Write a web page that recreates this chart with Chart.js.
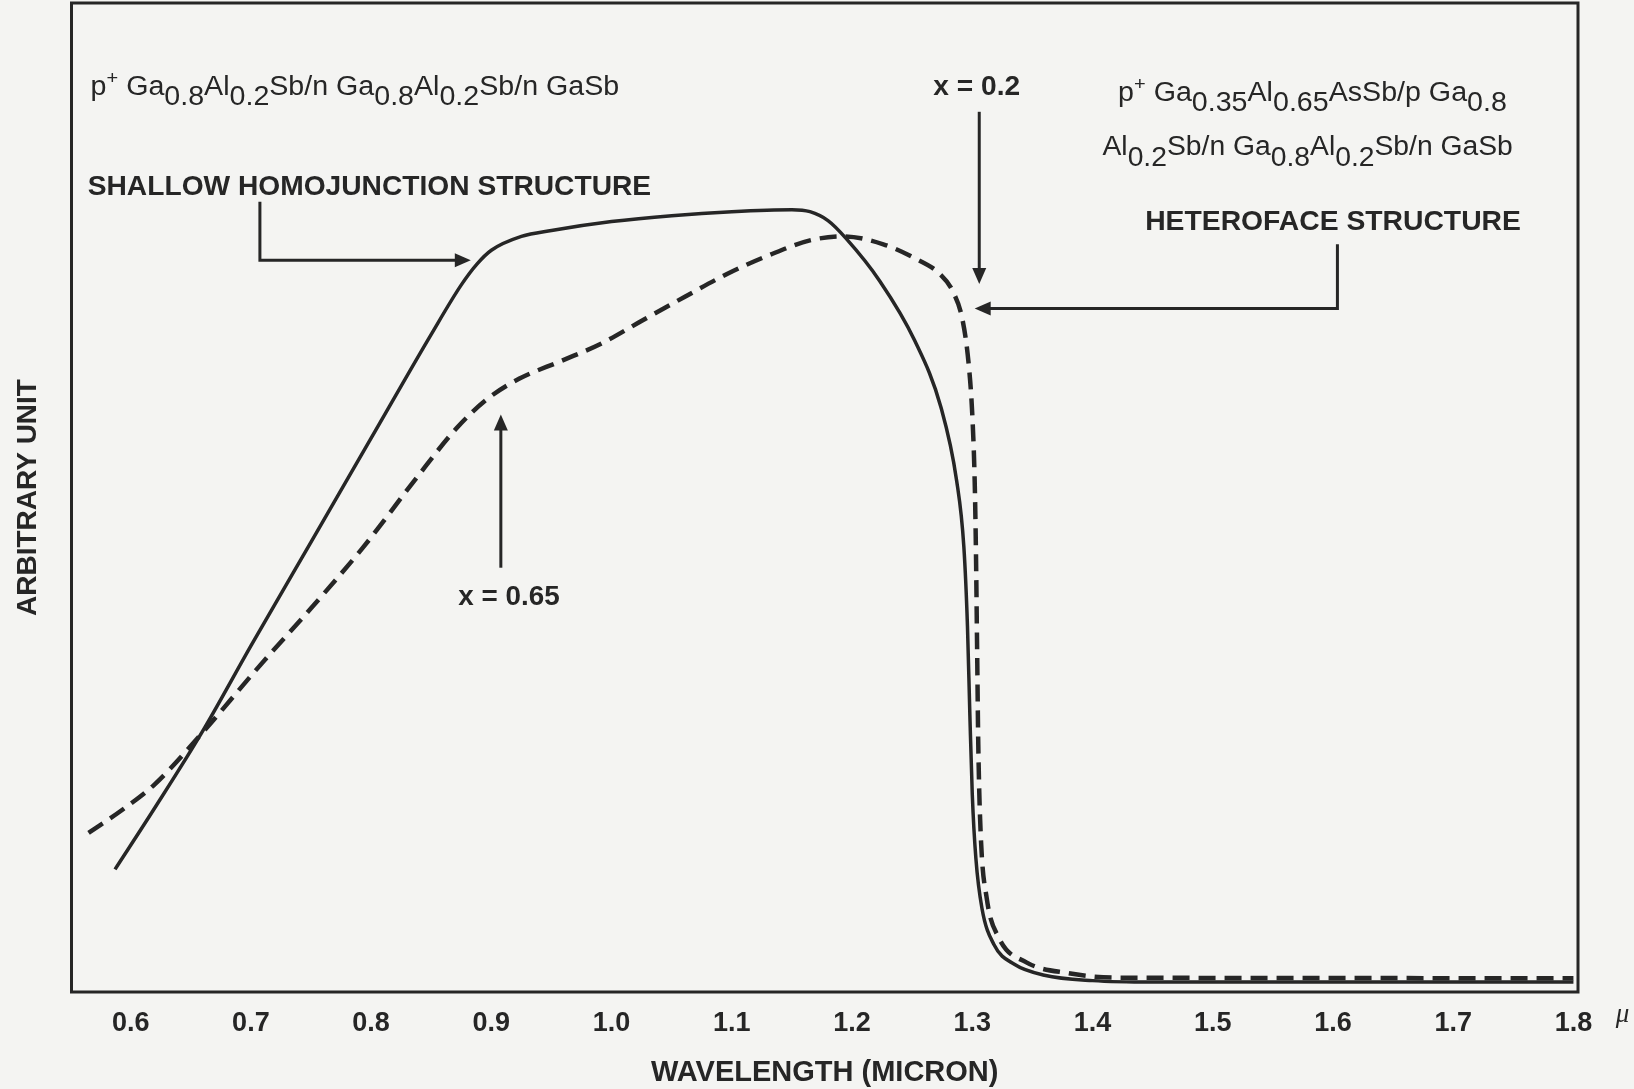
<!DOCTYPE html>
<html><head><meta charset="utf-8">
<script src="https://cdn.jsdelivr.net/npm/chart.js@4.4.1/dist/chart.umd.min.js"></script>
<style>html,body{margin:0;padding:0;background:#f4f4f2;} canvas{display:block;}</style>
</head><body>
<canvas id="c" width="1634" height="1089"></canvas>
<script>
// ---- data (wavelength in micron, response in arbitrary units 0..100) ----
const solidX = [0.587,0.62,0.66,0.70,0.75,0.80,0.85,0.875,0.888,0.90,0.925,0.95,1.00,1.05,1.10,1.15,1.165,1.18,1.195,1.223,1.252,1.274,1.287,1.293,1.296,1.298,1.300,1.303,1.308,1.318,1.335,1.36,1.40,1.45,1.80];
const solidY = [12.4,18.6,26.4,35.0,45.5,56.0,66.5,71.5,73.6,75.0,76.4,77.0,77.9,78.5,78.9,79.1,78.9,78.0,76.2,71.9,65.9,59.1,51.7,45.0,37.0,28.0,20.0,13.5,8.5,4.8,2.8,1.7,1.15,1.0,1.0];
const dashedX = [0.565,0.594,0.62,0.661,0.706,0.75,0.793,0.836,0.871,0.897,0.923,0.958,0.992,1.027,1.061,1.096,1.131,1.165,1.193,1.226,1.252,1.273,1.284,1.292,1.297,1.300,1.302,1.303,1.304,1.305,1.307,1.312,1.322,1.345,1.38,1.42,1.80];
const dashedY = [16.1,18.5,21.0,26.4,32.8,38.8,44.9,51.7,57.0,60.0,62.0,63.8,65.6,68.0,70.3,72.6,74.5,76.0,76.4,75.6,74.2,72.6,70.8,67.9,63.5,58.4,51.7,45.0,35.0,25.0,16.0,9.5,5.5,3.0,1.9,1.45,1.4];
const tickValues = [0.6,0.7,0.8,0.9,1.0,1.1,1.2,1.3,1.4,1.5,1.6,1.7,1.8];
const xTitle = 'WAVELENGTH (MICRON)';
const yTitle = 'ARBITRARY UNIT';
const unitLabel = 'μ';

// ---- annotation texts (segments: text, vertical shift in em, size factor) ----
const SUB = 0.38, SUP = -0.42;
const leftFormula = [['p',0],['+',SUP,0.7],[' Ga',0],['0.8',SUB],['Al',0],['0.2',SUB],['Sb/n Ga',0],['0.8',SUB],['Al',0],['0.2',SUB],['Sb/n GaSb',0]];
const rightFormula1 = [['p',0],['+',SUP,0.7],[' Ga',0],['0.35',SUB],['Al',0],['0.65',SUB],['AsSb/p Ga',0],['0.8',SUB]];
const rightFormula2 = [['Al',0],['0.2',SUB],['Sb/n Ga',0],['0.8',SUB],['Al',0],['0.2',SUB],['Sb/n GaSb',0]];

const INK = '#262626';
const FONT = '"Liberation Sans", Arial, Helvetica, sans-serif';

const annotations = [
  {segs: leftFormula, x0:0.5667, x1:1.0063, y:90.7, size:27, weight:'normal'},
  {segs: [['SHALLOW HOMOJUNCTION STRUCTURE',0]], x0:0.5643, x1:1.0329, y:80.6, size:28, weight:'bold'},
  {segs: [['x = 0.65',0]], x0:0.8725, x1:0.9568, y:39.1, size:27, weight:'bold'},
  {segs: [['x = 0.2',0]], x0:1.2676, x1:1.3398, y:90.7, size:27, weight:'bold'},
  {segs: rightFormula1, x0:1.4213, x1:1.7446, y:90.1, size:27, weight:'normal'},
  {segs: rightFormula2, x0:1.4083, x1:1.7496, y:84.6, size:27, weight:'normal'},
  {segs: [['HETEROFACE STRUCTURE',0]], x0:1.4438, x1:1.7563, y:77.0, size:28, weight:'bold'}
];
const arrows = [
  [[0.7075,79.9],[0.7075,74.0],[0.8829,74.0]],
  [[0.9079,42.9],[0.9079,58.4]],
  [[1.3058,89.0],[1.3058,71.6]],
  [[1.6037,75.6],[1.6037,69.1],[1.302,69.1]]
];

const bgPlugin = {
  id:'bg',
  beforeDraw(chart){
    const c = chart.ctx; c.save(); c.fillStyle = '#f4f4f2';
    c.fillRect(0,0,chart.width,chart.height); c.restore();
  }
};

const annotPlugin = {
  id:'annot',
  afterDatasetsDraw(chart){
    const c = chart.ctx, xs = chart.scales.x, ys = chart.scales.y, a = chart.chartArea;
    c.save();
    // frame
    c.strokeStyle = INK; c.lineWidth = 3;
    c.strokeRect(a.left, a.top, a.right - a.left, a.bottom - a.top);
    // texts
    c.fillStyle = INK; c.textBaseline = 'alphabetic'; c.textAlign = 'left';
    annotations.forEach(t => {
      const px0 = xs.getPixelForValue(t.x0), px1 = xs.getPixelForValue(t.x1);
      const py = ys.getPixelForValue(t.y);
      let total = 0;
      const parts = t.segs.map(s => {
        const sz = t.size * (s[2] || 1);
        c.font = `${t.weight} ${sz}px ${FONT}`;
        const w = c.measureText(s[0]).width;
        total += w;
        return {text:s[0], sz, w, dy:s[1]*t.size};
      });
      const sx = (px1 - px0) / total;
      c.save(); c.translate(px0, py); c.scale(sx, 1);
      let cx = 0;
      parts.forEach(p => {
        c.font = `${t.weight} ${p.sz}px ${FONT}`;
        c.fillText(p.text, cx, p.dy);
        cx += p.w;
      });
      c.restore();
    });
    // arrows
    c.lineWidth = 3; c.lineCap = 'butt'; c.lineJoin = 'miter';
    arrows.forEach(pts => {
      const P = pts.map(p => [xs.getPixelForValue(p[0]), ys.getPixelForValue(p[1])]);
      const n = P.length, tip = P[n-1], prev = P[n-2];
      const ang = Math.atan2(tip[1]-prev[1], tip[0]-prev[0]);
      const L = 16, W = 7;
      c.beginPath(); c.moveTo(P[0][0], P[0][1]);
      for (let i=1;i<n-1;i++) c.lineTo(P[i][0], P[i][1]);
      c.lineTo(tip[0] - Math.cos(ang)*L*0.8, tip[1] - Math.sin(ang)*L*0.8);
      c.stroke();
      c.beginPath();
      c.moveTo(tip[0], tip[1]);
      c.lineTo(tip[0] - Math.cos(ang)*L - Math.sin(ang)*W, tip[1] - Math.sin(ang)*L + Math.cos(ang)*W);
      c.lineTo(tip[0] - Math.cos(ang)*L + Math.sin(ang)*W, tip[1] - Math.sin(ang)*L - Math.cos(ang)*W);
      c.closePath(); c.fill();
    });
    // unit after last tick
    c.font = `italic 27px "Liberation Serif", serif`;
    c.textAlign = 'center';
    c.fillText(unitLabel, xs.getPixelForValue(tickValues[tickValues.length-1]) + 49, a.bottom + 30);
    c.restore();
  }
};

new Chart(document.getElementById('c'), {
  type:'line',
  data:{datasets:[
    {label:'Shallow homojunction structure', data: solidX.map((x,i)=>({x, y:solidY[i]})),
     borderColor:INK, borderWidth:3.5, pointRadius:0, fill:false, cubicInterpolationMode:'monotone'},
    {label:'Heteroface structure', data: dashedX.map((x,i)=>({x, y:dashedY[i]})),
     borderColor:INK, borderWidth:4.5, borderDash:[17,9], pointRadius:0, fill:false, cubicInterpolationMode:'monotone'}
  ]},
  options:{
    responsive:false, animation:false, devicePixelRatio:1,
    layout:{padding:{top:3, right:56, bottom:0, left:0}},
    plugins:{legend:{display:false}, tooltip:{enabled:false}},
    scales:{
      x:{type:'linear', min:0.5508, max:1.8038,
         grid:{display:false, drawTicks:false}, border:{display:false},
         afterBuildTicks: s => { s.ticks = tickValues.map(v => ({value:v})); },
         afterFit: s => { s.height = 97; },
         ticks:{callback: v => Number(v).toFixed(1), font:{family:FONT, size:27, weight:'bold'}, color:INK, padding:15, maxRotation:0, autoSkip:false},
         title:{display:true, text:xTitle, color:INK, font:{family:FONT, size:29, weight:'bold', lineHeight:1}, padding:{top:0, bottom:2}}
      },
      y:{min:0, max:100,
         grid:{display:false, drawTicks:false}, border:{display:false},
         ticks:{display:false},
         afterFit: s => { s.width = 71.5; },
         title:{display:true, text:yTitle, color:INK, font:{family:FONT, size:28, weight:'bold', lineHeight:1}, padding:{top:14, bottom:0}}
      }
    }
  },
  plugins:[bgPlugin, annotPlugin]
});
</script>
</body></html>
